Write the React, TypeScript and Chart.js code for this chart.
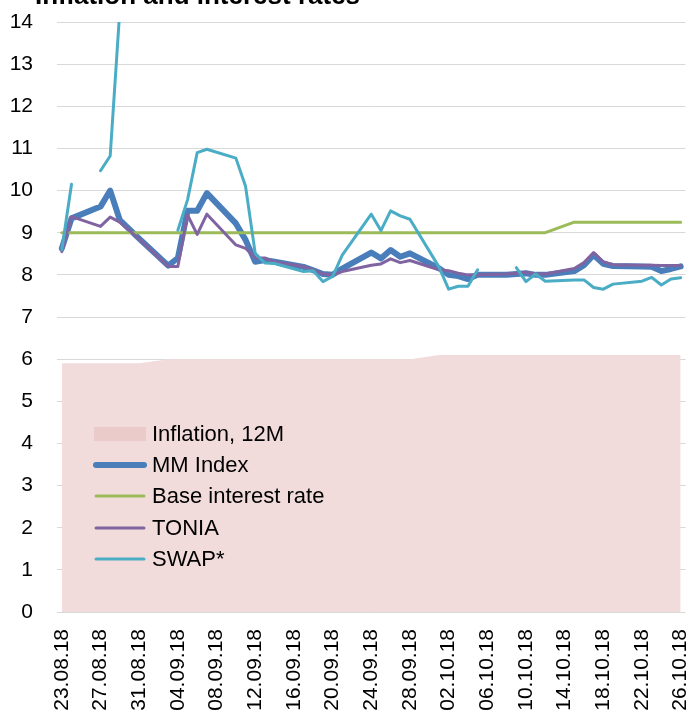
import React, { useEffect, useRef } from 'react';
import { Chart, registerables } from 'chart.js';

Chart.register(...registerables);

const dates = [
  '23.08.18', '24.08.18', '27.08.18', '28.08.18', '29.08.18', '30.08.18', '31.08.18',
  '03.09.18', '04.09.18', '05.09.18', '06.09.18', '07.09.18',
  '10.09.18', '11.09.18', '12.09.18', '13.09.18', '14.09.18',
  '17.09.18', '18.09.18', '19.09.18', '20.09.18', '21.09.18',
  '24.09.18', '25.09.18', '26.09.18', '27.09.18', '28.09.18',
  '01.10.18', '02.10.18', '03.10.18', '04.10.18', '05.10.18',
  '08.10.18', '09.10.18', '10.10.18', '11.10.18', '12.10.18',
  '15.10.18', '16.10.18', '17.10.18', '18.10.18', '19.10.18',
  '22.10.18', '23.10.18', '24.10.18', '25.10.18', '26.10.18',
];

const xTickLabels = [
  '23.08.18', '27.08.18', '31.08.18', '04.09.18', '08.09.18', '12.09.18', '16.09.18',
  '20.09.18', '24.09.18', '28.09.18', '02.10.18', '06.10.18', '10.10.18', '14.10.18',
  '18.10.18', '22.10.18', '26.10.18',
];

const yTicks = [0, 14];

const inflation = [
  5.9, 5.9, 5.9, 5.9, 5.9, 5.9, 5.9,
  6.0, 6.0, 6.0, 6.0, 6.0,
  6.0, 6.0, 6.0, 6.0, 6.0,
  6.0, 6.0, 6.0, 6.0, 6.0,
  6.0, 6.0, 6.0, 6.0, 6.0,
  6.1, 6.1, 6.1, 6.1, 6.1,
  6.1, 6.1, 6.1, 6.1, 6.1,
  6.1, 6.1, 6.1, 6.1, 6.1,
  6.1, 6.1, 6.1, 6.1, 6.1,
];

const mmIndex = [
  8.63, 9.34, 9.62, 10.0, 9.3, 9.08, 8.86,
  8.22, 8.4, 9.52, 9.52, 9.94,
  9.22, 8.83, 8.31, 8.35, 8.31,
  8.19, 8.11, 8.02, 8.0, 8.15,
  8.53, 8.39, 8.59, 8.43, 8.51,
  8.16, 8.0, 7.97, 7.9, 8.0,
  8.0, 8.02, 8.04, 8.0, 8.0,
  8.09, 8.23, 8.47, 8.26, 8.21,
  8.2, 8.19, 8.09, 8.14, 8.2,
];

const baseRate = [
  9, 9, 9, 9, 9, 9, 9,
  9, 9, 9, 9, 9,
  9, 9, 9, 9, 9,
  9, 9, 9, 9, 9,
  9, 9, 9, 9, 9,
  9, 9, 9, 9, 9,
  9, 9, 9, 9, 9,
  9.25, 9.25, 9.25, 9.25, 9.25,
  9.25, 9.25, 9.25, 9.25, 9.25,
];

const tonia = [
  8.55, 9.38, 9.15, 9.37, 9.25, 9.05, 8.85,
  8.2, 8.2, 9.42, 8.96, 9.44,
  8.71, 8.63, 8.4, 8.4, 8.31,
  8.2, 8.12, 8.02, 8.0, 8.08,
  8.23, 8.26, 8.38, 8.29, 8.34,
  8.12, 8.1, 8.04, 8.0, 8.0,
  8.02, 8.04, 8.06, 8.02, 8.02,
  8.15, 8.29, 8.53, 8.31, 8.24,
  8.23, 8.23, 8.22, 8.22, 8.22,
];

const swap = [
  8.6, 10.15, 10.47, 10.82, 14.3, null, null,
  null, 9.06, 9.78, 10.9, 10.98,
  10.77, 10.1, 8.51, 8.28, 8.27,
  8.08, 8.1, 7.84, 7.96, 8.47,
  9.44, 9.05, 9.52, 9.4, 9.32,
  8.19, 7.66, 7.73, 7.73, 8.12,
  null, 8.17, 7.84, 8.02, 7.85,
  7.88, 7.88, 7.7, 7.66, 7.78,
  7.85, 7.94, 7.76, 7.9, 7.93,
];

// SWAP line is broken after these dates
const swapBreakAfter = ['24.08.18'];

const legendLabels = ['Inflation, 12M', 'MM Index', 'Base interest rate', 'TONIA', 'SWAP*'];
const titleText = 'Inflation and interest rates';

const COLORS = {
  inflation: '#f2dcdb',
  inflationSwatch: '#ebcaca',
  mm: '#4a7ebb',
  base: '#9bbb59',
  tonia: '#8064a2',
  swap: '#4bacc6',
};

const FONT = '"Liberation Sans", Arial, sans-serif';

function parseDate(s: string): number {
  const [dd, mm, yy] = s.split('.').map(Number);
  return Date.UTC(2000 + yy, mm - 1, dd);
}
const t0 = parseDate(dates[0]);
const dayOffset = (s: string) => Math.round((parseDate(s) - t0) / 86400000);
const xs = dates.map(dayOffset);
const toPoints = (arr: (number | null)[]) => arr.map((y, i) => ({ x: xs[i], y }));

const overlayPlugin = {
  id: 'overlay',
  afterDraw(chart: any) {
    const ctx = chart.ctx;
    ctx.save();
    // title (partially cut off at top)
    ctx.fillStyle = '#000';
    ctx.font = `bold 26px ${FONT}`;
    ctx.textBaseline = 'alphabetic';
    ctx.textAlign = 'left';
    ctx.fillText(titleText, 35, 4);

    // legend
    const x0 = 94;
    const x1 = 146;
    const rows = [434, 465, 496, 528, 559];
    ctx.fillStyle = COLORS.inflationSwatch;
    ctx.fillRect(x0, 427, x1 - x0, 14);
    const lines = [
      { c: COLORS.mm, w: 6 },
      { c: COLORS.base, w: 3 },
      { c: COLORS.tonia, w: 3 },
      { c: COLORS.swap, w: 3 },
    ];
    ctx.lineCap = 'round';
    lines.forEach((l, i) => {
      ctx.strokeStyle = l.c;
      ctx.lineWidth = l.w;
      ctx.beginPath();
      ctx.moveTo(x0 + 2, rows[i + 1]);
      ctx.lineTo(x1 - 2, rows[i + 1]);
      ctx.stroke();
    });
    ctx.fillStyle = '#000';
    ctx.font = `22px ${FONT}`;
    ctx.textBaseline = 'middle';
    legendLabels.forEach((t, i) => {
      ctx.fillText(t, 152, rows[i] + 1);
    });
    ctx.restore();
  },
};

export default function App() {
  const ref = useRef<HTMLCanvasElement>(null);
  useEffect(() => {
    if (!ref.current) return;
    const lineCommon = {
      pointRadius: 0,
      pointHoverRadius: 0,
      tension: 0,
      borderCapStyle: 'round' as const,
      borderJoinStyle: 'round' as const,
      fill: false,
    };
    const chart = new Chart(ref.current, {
      type: 'line',
      data: {
        datasets: [
          {
            label: legendLabels[0],
            data: toPoints(inflation),
            backgroundColor: COLORS.inflation,
            borderWidth: 0,
            borderColor: 'rgba(0,0,0,0)',
            pointRadius: 0,
            fill: 'origin',
            order: 5,
          },
          {
            ...lineCommon,
            label: legendLabels[1],
            data: toPoints(mmIndex),
            borderColor: COLORS.mm,
            borderWidth: 6,
            order: 4,
          },
          {
            ...lineCommon,
            label: legendLabels[2],
            data: toPoints(baseRate),
            borderColor: COLORS.base,
            borderWidth: 3,
            order: 3,
          },
          {
            ...lineCommon,
            label: legendLabels[3],
            data: toPoints(tonia),
            borderColor: COLORS.tonia,
            borderWidth: 3,
            order: 2,
          },
          {
            ...lineCommon,
            label: legendLabels[4],
            data: toPoints(swap),
            borderColor: COLORS.swap,
            borderWidth: 3,
            spanGaps: false,
            order: 1,
            segment: {
              borderColor: (c: any) =>
                swapBreakAfter.includes(dates[c.p0DataIndex]) ? 'rgba(0,0,0,0)' : undefined,
            },
          },
        ],
      },
      options: {
        animation: false,
        responsive: false,
        devicePixelRatio: 1,
        layout: { padding: { top: 22, right: 5.5, left: 0, bottom: 0 } },
        plugins: {
          legend: { display: false },
          tooltip: { enabled: false },
          title: { display: false },
        },
        scales: {
          x: {
            type: 'linear',
            min: -0.5,
            max: 64.5,
            afterBuildTicks: (axis: any) => {
              axis.ticks = xTickLabels.map((l) => ({ value: dayOffset(l) }));
            },
            afterFit: (s: any) => {
              s.height = 107;
              s.paddingLeft = 0;
              s.paddingRight = 0;
            },
            ticks: {
              autoSkip: false,
              maxRotation: 90,
              minRotation: 90,
              padding: 17,
              color: '#000',
              font: { family: FONT, size: 21 },
              callback: (_v: any, i: number) => xTickLabels[i],
            },
            grid: { display: false, drawTicks: false },
            border: { display: false },
          },
          y: {
            min: yTicks[0],
            max: yTicks[1],
            afterFit: (s: any) => {
              s.width = 57;
              s.paddingTop = 0;
              s.paddingBottom = 0;
            },
            ticks: {
              stepSize: 1,
              padding: 24,
              color: '#000',
              font: { family: FONT, size: 21 },
            },
            grid: { color: '#d9d9d9', lineWidth: 1, drawTicks: false },
            border: { display: false },
          },
        },
      },
      plugins: [overlayPlugin],
    });
    return () => chart.destroy();
  }, []);
  return (
    <div style={{ position: 'absolute', left: 0, top: 0, width: 691, height: 719, background: '#fff' }}>
      <canvas ref={ref} width={691} height={719} style={{ display: 'block' }} />
    </div>
  );
}
